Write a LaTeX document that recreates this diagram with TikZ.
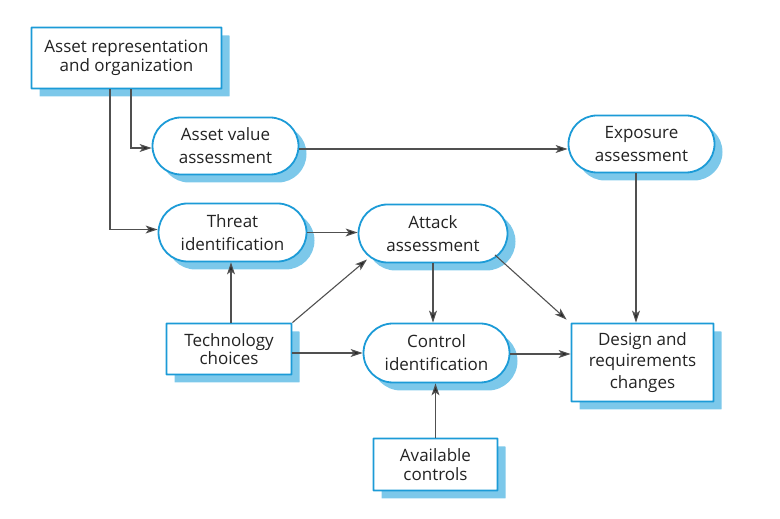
\documentclass[tikz,border=0pt]{standalone}
\usepackage{fontspec}
\setmainfont{Open Sans}
\usetikzlibrary{shapes.misc,arrows.meta}
\definecolor{bord}{RGB}{28,155,215}
\definecolor{shad}{RGB}{124,200,234}
\definecolor{txt}{RGB}{35,35,35}
\definecolor{conn}{RGB}{80,80,80}
\tikzset{
  base/.style={draw=bord, line width=1.8pt, fill=white, text=txt, align=center, inner sep=0pt,
    preaction={draw=none, fill=shad, transform canvas={xshift=8pt, yshift=-8pt}}},
  rbox/.style={base, shape=rectangle, rounded corners=0.4pt, font=\fontsize{17}{18.5}\selectfont},
  sbox/.style={base, shape=rounded rectangle, font=\fontsize{17}{23}\selectfont},
  conn/.style={draw=conn, line width=1.1pt, rounded corners=0pt, -{Stealth[length=12pt,width=8pt,inset=3pt,fill=black!85]}},
}
\begin{document}
\begin{tikzpicture}[x=1pt,y=1pt]
\useasboundingbox (0,0) rectangle (780,519);
\node[rbox, minimum width=190pt, minimum height=61pt] (asset) at (126.5,461) {Asset representation\\and organization};
\node[sbox, minimum width=146pt, minimum height=57pt] (value) at (225.5,373) {Asset value\\assessment};
\node[sbox, minimum width=146pt, minimum height=57pt] (exposure) at (641.5,375) {Exposure\\assessment};
\node[sbox, minimum width=148pt, minimum height=58pt] (threat) at (232.5,286.5) {Threat\\identification};
\node[sbox, minimum width=149pt, minimum height=58pt] (attack) at (433,285.5) {Attack\\assessment};
\node[rbox, minimum width=125pt, minimum height=51pt] (tech) at (229,170) {Technology\\choices};
\node[sbox, minimum width=146pt, minimum height=59pt] (control) at (436.5,166) {Control\\identification};
\node[rbox, minimum width=142pt, minimum height=78pt, font=\fontsize{17}{21.5}\selectfont] (design) at (642.5,156.5) {Design and\\requirements\\changes};
\node[rbox, minimum width=124pt, minimum height=52pt, font=\fontsize{17}{19}\selectfont] (avail) at (435.5,54.5) {Available\\controls};

\draw[conn] ([xshift=-16.5pt]asset.south) |- ([yshift=3pt]threat.west);
\draw[conn] ([xshift=4.5pt]asset.south) |- ([yshift=-2pt]value.west);
\draw[conn] ([yshift=-3pt]value.east) -- ([yshift=-3pt]value.east -| exposure.west);
\draw[conn] (threat.east) -- (threat.east -| attack.west);
\draw[conn] ([xshift=2pt]tech.north) -- ([xshift=2pt]tech.north |- threat.south);
\draw[conn] (tech.north east) -- ([shift={(-66,-26)}]attack.center);
\draw[conn] (control.west -| tech.east) -- (control.west);
\draw[conn] (attack.south) -- (attack.south |- control.north);
\draw[conn] ([shift={(62,-21.5)}]attack.center) -- ([shift={(-4,3)}]design.north west);
\draw[conn] ([xshift=-5.5pt]exposure.south) -- ([xshift=-5.5pt]exposure.south |- design.north);
\draw[conn] ([yshift=-1pt]control.east) -- ([yshift=-1pt]control.east -| design.west);
\draw[conn] (avail.north) -- (avail.north |- control.south);
\end{tikzpicture}
\end{document}
